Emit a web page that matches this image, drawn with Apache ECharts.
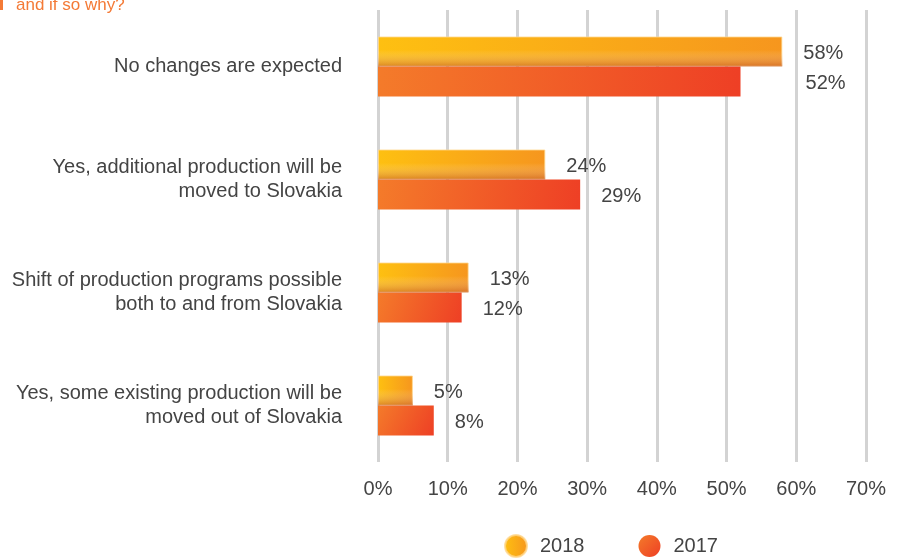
<!DOCTYPE html>
<html>
<head>
<meta charset="utf-8">
<script src="https://cdn.jsdelivr.net/npm/echarts@6/dist/echarts.min.js"></script>
<style>
html, body { margin: 0; padding: 0; background: #fff; }
#chart { width: 902px; height: 560px; }
</style>
</head>
<body>
<div id="chart"></div>
<script>
// answers (top to bottom)
var categories = [
    'No changes are expected',
    'Yes, additional production will be\nmoved to Slovakia',
    'Shift of production programs possible\nboth to and from Slovakia',
    'Yes, some existing production will be\nmoved out of Slovakia'
];
var seriesNames = ['2018', '2017'];
var values2018 = [58, 24, 13, 5];
var values2017 = [52, 29, 12, 8];
var xTicks = [0, 10, 20, 30, 40, 50, 60, 70];

var FONT = '"Liberation Sans", Arial, Helvetica, sans-serif';
var FS = 20;

var grad2018 = new echarts.graphic.LinearGradient(0, 0, 1, 0, [
    {offset: 0, color: '#fec011'},
    {offset: 1, color: '#f6961e'}
]);
// darker lower edge of the 2018 bars
var shade2018 = new echarts.graphic.LinearGradient(0, 0, 0, 1, [
    {offset: 0, color: 'rgba(255,255,255,0)'},
    {offset: 0.45, color: 'rgba(255,255,255,0)'},
    {offset: 1, color: 'rgba(185,75,40,0.5)'}
]);
var grad2017 = new echarts.graphic.LinearGradient(0, 0, 1, 1, [
    {offset: 0, color: '#f47b2a'},
    {offset: 1, color: '#ee3f25'}
]);

function labelOpt() {
    return {
        show: true,
        position: 'right',
        distance: 21,
        offset: [0, 2],
        formatter: '{c}%',
        fontSize: FS,
        fontFamily: FONT,
        color: '#444'
    };
}

// the 2017 label of the first row sits in line with the 2018 one
var data2017 = values2017.map(function (v, i) {
    return i === 0 ? {value: v, label: {offset: [44, 2]}} : v;
});

var myChart = echarts.init(document.getElementById('chart'));
var option = {
    animation: false,
    textStyle: {fontFamily: FONT},
    graphic: [
        {type: 'rect', left: 0, top: 0, shape: {width: 3, height: 10}, style: {fill: '#f47a36'}},
        {type: 'text', left: 16, top: -3, style: {text: 'and if so why?', fill: '#f47a36', font: '17px ' + FONT}}
    ],
    legend: {
        left: 499,
        top: 529,
        itemWidth: 22,
        itemHeight: 22,
        itemGap: 54,
        icon: 'circle',
        textStyle: {fontSize: FS, color: '#444', fontFamily: FONT, padding: [2, 0, 0, 8]},
        data: seriesNames
    },
    grid: {
        left: 378,
        right: 36,
        top: 10,
        bottom: 98,
        containLabel: false
    },
    xAxis: {
        type: 'value',
        min: xTicks[0],
        max: xTicks[xTicks.length - 1],
        interval: 10,
        axisLine: {show: false},
        axisTick: {show: false},
        axisLabel: {
            formatter: '{value}%',
            fontSize: FS,
            fontFamily: FONT,
            color: '#444',
            margin: 17
        },
        splitLine: {lineStyle: {color: '#d3d3d3', width: 3}}
    },
    yAxis: [
        {
            type: 'category',
            inverse: true,
            data: categories,
            axisLine: {show: false},
            axisTick: {show: false},
            axisLabel: {
                fontSize: FS,
                fontFamily: FONT,
                color: '#444',
                margin: 36,
                lineHeight: 24,
                align: 'right'
            }
        },
        {
            type: 'category',
            inverse: true,
            data: categories,
            show: false
        }
    ],
    series: [
        {
            name: seriesNames[0],
            type: 'bar',
            barWidth: 30,
            barGap: '0%',
            itemStyle: {color: grad2018, borderColor: 'rgba(255,215,140,0.8)', borderWidth: 1},
            label: labelOpt(),
            data: values2018
        },
        {
            name: seriesNames[1],
            type: 'bar',
            barWidth: 30,
            barGap: '0%',
            itemStyle: {color: grad2017},
            label: labelOpt(),
            data: data2017
        },
        {
            name: 'shade',
            type: 'bar',
            yAxisIndex: 1,
            barWidth: 30,
            barGap: '0%',
            silent: true,
            itemStyle: {color: shade2018},
            data: values2018
        },
        {
            name: 'slot',
            type: 'bar',
            yAxisIndex: 1,
            barWidth: 30,
            barGap: '0%',
            silent: true,
            data: []
        }
    ]
};
myChart.setOption(option);
</script>
</body>
</html>
